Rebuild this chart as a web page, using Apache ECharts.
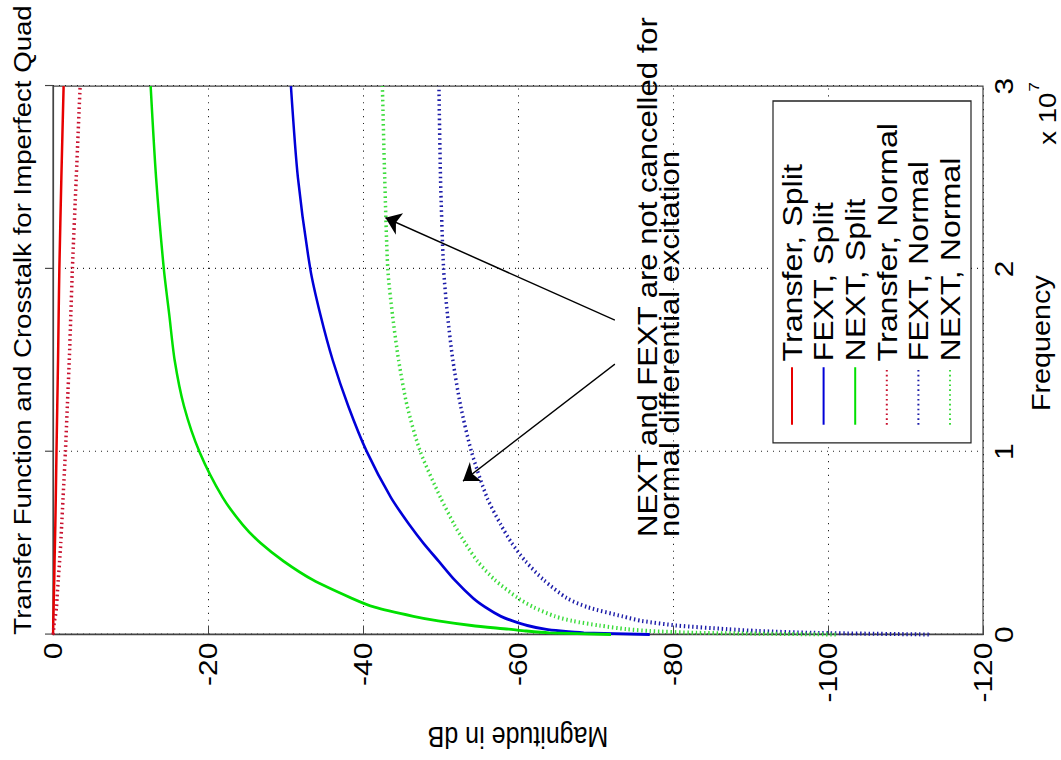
<!DOCTYPE html>
<html><head><meta charset="utf-8">
<script src="https://cdn.jsdelivr.net/npm/echarts@6/dist/echarts.min.js"></script>
<style>
html,body{margin:0;padding:0;background:#fff;width:1061px;height:760px;overflow:hidden;}
#chart{position:absolute;left:0;top:760px;width:661px;height:1061px;transform-origin:0 0;transform:rotate(-90deg) scaleX(1.15);}
</style></head><body>
<div id="chart"></div>
<script>
// frequency in units of 1e7 Hz
var freq           = [0.001, 0.01, 0.02, 0.03, 0.05, 0.075, 0.1, 0.15, 0.2, 0.3, 0.4, 0.5, 0.6, 0.75, 1.0, 1.25, 1.5, 1.75, 2.0, 2.5, 3.0];
var transferSplit  = [0, 0, 0, -0.01, -0.02, -0.03, -0.05, -0.08, -0.1, -0.16, -0.2, -0.25, -0.3, -0.36, -0.45, -0.55, -0.65, -0.73, -0.82, -1.08, -1.37];
var fextSplit      = [-77, -68.5, -65.5, -63.5, -61.2, -59.3, -57.8, -55.8, -54.2, -51.8, -49.8, -47.8, -46.0, -43.6, -40.5, -38.1, -36.1, -34.5, -33.2, -31.6, -30.7];
var nextSplit      = [-72, -64, -61, -58.8, -54, -49.7, -46.5, -41.5, -38.5, -33.5, -29.8, -26.8, -24.5, -21.9, -18.9, -16.9, -15.7, -15.0, -14.3, -13.3, -12.6];
var transferNormal = [0, -0.02, -0.05, -0.08, -0.12, -0.18, -0.3, -0.45, -0.52, -0.68, -0.85, -1.0, -1.12, -1.3, -1.6, -1.85, -2.1, -2.3, -2.5, -3.0, -3.5];
var fextNormal     = [-113, -98, -91, -87, -80.5, -76, -73.5, -69, -66.3, -63.3, -61, -59.2, -57.8, -56, -54, -52.6, -51.6, -50.9, -50.4, -50.0, -49.8];
var nextNormal     = [-101, -83, -77, -74, -70.5, -67, -64.8, -62, -60, -57, -54.8, -53.2, -51.8, -50.0, -47.4, -45.7, -44.6, -43.8, -43.2, -42.8, -42.5];
var xTicks = [0, 1, 2, 3];
var yTicks = [0, -20, -40, -60, -80, -100, -120];
var legendNames = ['Transfer, Split', 'FEXT, Split', 'NEXT, Split', 'Transfer, Normal', 'FEXT, Normal', 'NEXT, Normal'];
var title = 'Transfer Function and Crosstalk for Imperfect Quad';
var noteLines = ['NEXT and FEXT are not cancelled for', 'normal differential excitation'];
// arrows: [freq, dB] start -> tip
var arrowStarts = [[1.72, -72.5], [1.48, -72.5]];
var arrowTips   = [[2.28, -42.9], [0.84, -52.9]];

var FONT = 'Liberation Sans, Arial, Helvetica, sans-serif';
var chart = echarts.init(document.getElementById('chart'), null, {renderer: 'svg'});
function pairs(ys){ return freq.map(function(f,i){ return [f, ys[i]]; }); }
var colors = ['#e80000', '#0000d8', '#00e000', '#c8102e', '#1c1ca8', '#3cdc3c'];
var seriesData = [transferSplit, fextSplit, nextSplit, transferNormal, fextNormal, nextNormal];
var series = seriesData.map(function(d, i){
  return {
    name: legendNames[i], type: 'line', data: pairs(d), showSymbol: false, symbol: 'none',
    smooth: 0.25,
    lineStyle: {color: colors[i], width: i < 3 ? 2.5 : 3.5, type: i < 3 ? 'solid' : [1.4, 2.8]},
    itemStyle: {color: colors[i]}, z: 3
  };
});
series.push({
  type: 'lines', coordinateSystem: 'cartesian2d', z: 5, silent: true,
  symbol: ['none', 'arrow'], symbolSize: 15,
  lineStyle: {color: '#000', width: 1.3, opacity: 1},
  data: arrowStarts.map(function(s, i){ return {coords: [s, arrowTips[i]]}; })
});
var option = {
  animation: false,
  backgroundColor: '#fff',
  textStyle: {fontFamily: FONT},
  title: {text: title, left: 104, top: 6, textStyle: {fontFamily: FONT, fontSize: 24, fontWeight: 'normal', color: '#000'}},
  grid: {left: 95, right: 75, top: 53, bottom: 78, containLabel: false, show: true, borderColor: '#444', borderWidth: 1.2, backgroundColor: 'transparent'},
  xAxis: {
    type: 'value', min: 0, max: 3, interval: 1, name: 'Frequency', nameLocation: 'middle', nameGap: 46,
    nameTextStyle: {fontFamily: FONT, fontSize: 25, color: '#000', padding: [0, 0, 0, 30]},
    axisLine: {show: true, lineStyle: {color: '#444', width: 1.2}},
    axisTick: {show: true, inside: true, length: 8, lineStyle: {color: '#444'}},
    axisLabel: {fontFamily: FONT, fontSize: 26, color: '#000', margin: 8,
      formatter: function(v){ return xTicks.indexOf(v) >= 0 ? String(v) : ''; }},
    splitLine: {show: true, lineStyle: {color: '#222', type: [1, 5], width: 1}}
  },
  yAxis: {
    type: 'value', min: -120, max: 0, interval: 20, name: 'Magnitude in dB', nameLocation: 'middle', nameGap: 76, nameRotate: 90,
    nameTextStyle: {fontFamily: FONT, fontSize: 25, color: '#000'},
    axisLine: {show: true, lineStyle: {color: '#444', width: 1.2}},
    axisTick: {show: true, inside: true, length: 8, lineStyle: {color: '#444'}},
    axisLabel: {fontFamily: FONT, fontSize: 26, color: '#000', margin: 7,
      formatter: function(v){ return yTicks.indexOf(v) >= 0 ? String(v) : ''; }},
    splitLine: {show: true, lineStyle: {color: '#222', type: [1, 5], width: 1}}
  },
  legend: {
    show: true, orient: 'vertical', right: 88, bottom: 90, itemWidth: 50, itemHeight: 28, itemGap: 3.6,
    backgroundColor: '#fff', borderColor: '#222', borderWidth: 1.2, padding: [5, 19, 7, 14.8],
    textStyle: {fontFamily: FONT, fontSize: 28, lineHeight: 28, color: '#000'},
    itemStyle: {opacity: 0},
    data: legendNames
  },
  graphic: [
    {type: 'text', left: 194, top: 634, z: 10, style: {text: noteLines.join('\n'), font: '27px ' + FONT, fill: '#000', lineHeight: 22}},
    {type: 'text', left: 535, top: 1036, z: 10, style: {text: 'x 10', font: '24px ' + FONT, fill: '#000'}},
    {type: 'text', left: 581, top: 1026, z: 10, style: {text: '7', font: '15px ' + FONT, fill: '#000'}}
  ],
  series: series
};
chart.setOption(option);
</script>
</body></html>
